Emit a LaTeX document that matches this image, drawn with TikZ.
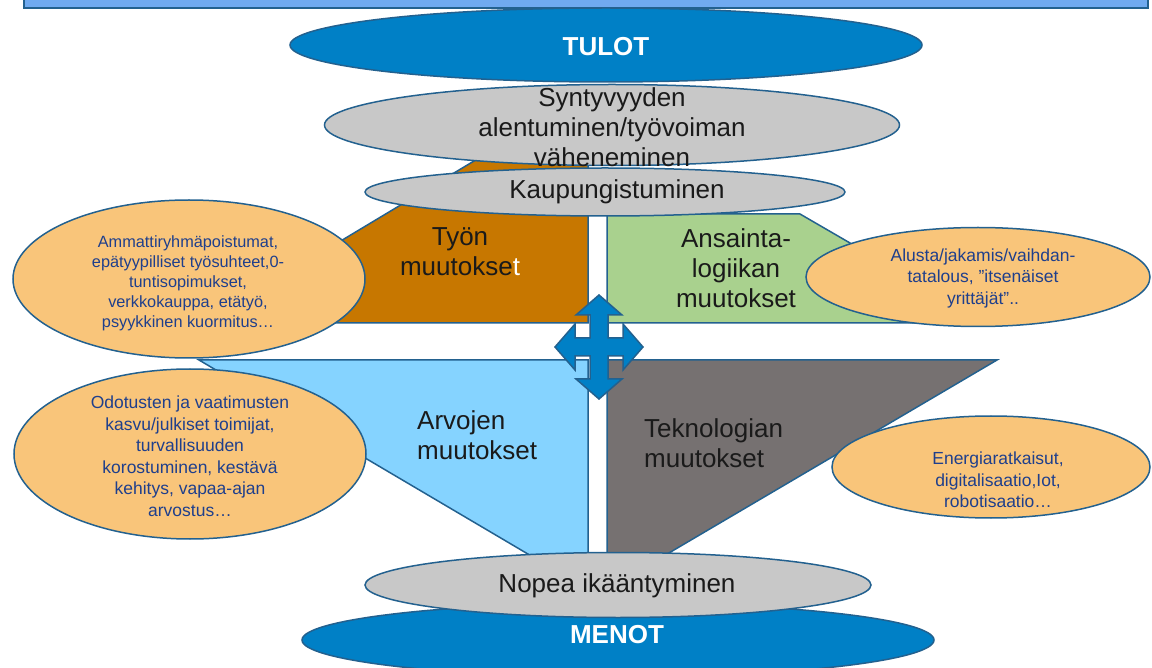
\documentclass[tikz,border=0pt]{standalone}
\usepackage{fontspec}
\setmainfont{Liberation Sans}
\usepackage{tikz}
\usepackage{xcolor}
\usetikzlibrary{shapes.geometric}

\definecolor{edgeblue}{HTML}{23618F}
\definecolor{topblue}{HTML}{70AAF0}
\definecolor{capblue}{HTML}{0080C6}
\definecolor{cloudgray}{HTML}{C8C8C8}
\definecolor{notefill}{HTML}{F9C57A}
\definecolor{noteink}{HTML}{1F3F8C}
\definecolor{inkblack}{HTML}{1A1A1A}
\definecolor{workbrown}{HTML}{C77700}
\definecolor{earngreen}{HTML}{A9D18E}
\definecolor{valueblue}{HTML}{85D3FF}
\definecolor{techgray}{HTML}{767171}

\begin{document}
\begin{tikzpicture}[x=1pt,y=-1pt,
    edge/.style={draw=edgeblue,line width=1.5pt},
    capell/.style={edge,ellipse,inner sep=0pt,fill=capblue,minimum width=632,minimum height=74},
    grayell/.style={edge,ellipse,inner sep=0pt,fill=cloudgray},
    noteell/.style={edge,ellipse,inner sep=0pt,fill=notefill},
    bigtext/.style={font=\fontsize{26}{30}\selectfont,text=inkblack,align=center,inner sep=0pt},
    smalltext/.style={font=\fontsize{17.5}{21.5}\selectfont,text=noteink,align=center,inner sep=0pt},
    captext/.style={font=\fontsize{26}{30}\selectfont\bfseries,text=white,inner sep=0pt}]
    \useasboundingbox (0,0) rectangle (1152,668);
    % top bar
    \draw[edge,fill=topblue] (24,-10) rectangle (1148,8);
    % four blocks
    \draw[edge,fill=workbrown] (479,158) -- (588,158) -- (588,323) -- (204,323) -- cycle;
    \draw[edge,fill=earngreen] (607,214) -- (800,214) -- (988,323) -- (607,323) -- cycle;
    \draw[edge,fill=valueblue] (199,360) -- (588,360) -- (588,570) -- (555,570) -- cycle;
    \draw[edge,fill=techgray]  (607,360) -- (997,360) -- (640,570) -- (607,570) -- cycle;
    \node[bigtext] (tyon) at (460,252) {Työn\\muutokse{\color{white}t}};
    \node[bigtext] (ansainta) at (736,268) {Ansainta-\\logiikan\\muutokset};
    \node[bigtext,align=left,anchor=west] (arvojen) at (417,435) {Arvojen\\muutokset};
    \node[bigtext,align=left,anchor=west] (tekno) at (644,443) {Teknologian\\muutokset};
    % cross arrow
    \draw[edge,fill=capblue,shift={(599,347)}]
        (0,-52) -- (23,-32) -- (9,-32) -- (9,-9) -- (24,-9) -- (24,-23) -- (44,0)
        -- (24,23) -- (24,9) -- (9,9) -- (9,32) -- (23,32) -- (0,52) -- (-23,32)
        -- (-9,32) -- (-9,9) -- (-24,9) -- (-24,23) -- (-44,0) -- (-24,-23)
        -- (-24,-9) -- (-9,-9) -- (-9,-32) -- (-23,-32) -- cycle;
    % income and costs
    \node[capell] (tulot) at (606,45) {};
    \node[captext] at (606,47) {TULOT};
    \node[grayell,minimum width=575,minimum height=81] (synty) at (612,125) {};
    \node[bigtext] at (612,127) {Syntyvyyden\\alentuminen/työvoiman\\väheneminen};
    \node[grayell,minimum width=480,minimum height=48] (kaupunki) at (605,192) {};
    \node[bigtext] at (617,192) {Kaupungistuminen};
    \node[capell] (menot) at (618,640) {};
    \node[captext] at (617,635) {MENOT};
    \node[grayell,minimum width=506,minimum height=65] (nopea) at (618,585) {};
    \node[bigtext] at (617,586) {Nopea ikääntyminen};
    % notes
    \node[noteell,minimum width=352,minimum height=158] (tyonnote) at (189,279) {};
    \node[smalltext,font=\fontsize{16.3}{20}\selectfont] at (188,283)
        {Ammattiryhmäpoistumat,\\epätyypilliset työsuhteet,0-\\tuntisopimukset,\\verkkokauppa, etätyö,\\psyykkinen kuormitus…};
    \node[noteell,minimum width=352,minimum height=170] (arvonote) at (190,454) {};
    \node[smalltext] at (190,456)
        {Odotusten ja vaatimusten\\kasvu/julkiset toimijat,\\turvallisuuden\\korostuminen, kestävä\\kehitys, vapaa-ajan\\arvostus…};
    \node[noteell,minimum width=344,minimum height=99] (ansnote) at (978,277) {};
    \node[smalltext] at (983,278) {Alusta/jakamis/vaihdan-\\tatalous, ”itsenäiset\\yrittäjät”..};
    \node[noteell,minimum width=318,minimum height=102] (teknonote) at (991,467) {};
    \node[smalltext] at (998,480) {Energiaratkaisut,\\digitalisaatio,Iot,\\robotisaatio…};
\end{tikzpicture}
\end{document}
